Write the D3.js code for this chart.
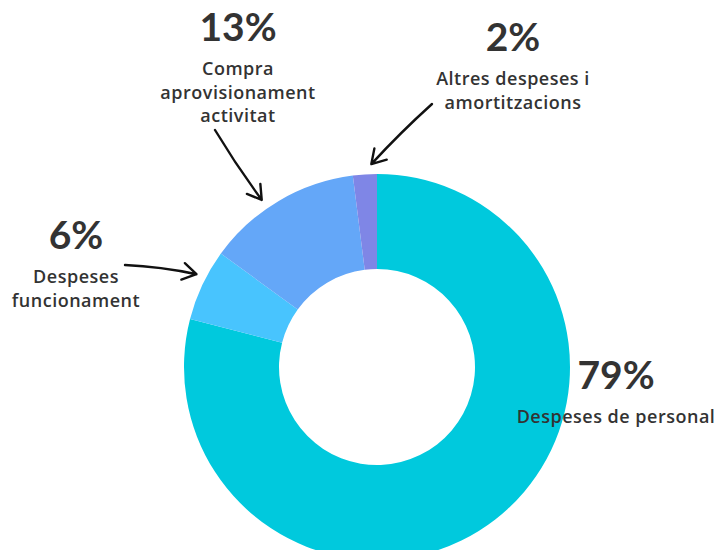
<!DOCTYPE html>
<html lang="ca">
<head>
<meta charset="UTF-8">
<title>Despeses</title>
<script src="https://cdn.jsdelivr.net/npm/d3@7"></script>
<style>
  body { margin: 0; background: #fff; }
  text { fill: #333; }
</style>
</head>
<body>
<svg id="main" width="717" height="550"></svg>
<script>
// data
const categories = ["Despeses de personal", "Despeses funcionament", "Compra aprovisionament activitat", "Altres despeses i amortitzacions"];
const values = [79, 6, 13, 2];
const labelLines = [["Despeses de personal"], ["Despeses", "funcionament"], ["Compra", "aprovisionament", "activitat"], ["Altres despeses i", "amortitzacions"]];
const colors = ["#00C9DD", "#48C4FE", "#64A7F8", "#7F86E6"];

// where each label sits, and where its arrow starts (null = no arrow)
const layout = [
    { x: 616, y: 389, arrow: null },
    { x: 76, y: 249, arrow: { x: 125, y: 265, bend: -3, dAngle: 2 } },
    { x: 238, y: 41, arrow: { x: 215, y: 130, bend: 2, dAngle: -4 } },
    { x: 513, y: 51, arrow: { x: 432, y: 104, bend: 2, dAngle: 2 } }
];

const cx = 377, cy = 367, outerR = 193, innerR = 98;
const svg = d3.select("#main");

const pie = d3.pie().sort(null).value(d => d);
const arcs = pie(values);
const arc = d3.arc().innerRadius(innerR).outerRadius(outerR);

const g = svg.append("g").attr("transform", `translate(${cx},${cy})`);
g.selectAll("path")
    .data(arcs)
    .join("path")
    .attr("d", arc)
    .attr("fill", (d, i) => colors[i]);

// labels
arcs.forEach((a, i) => {
    const L = layout[i];
    svg.append("text")
        .attr("x", L.x).attr("y", L.y)
        .attr("text-anchor", "middle")
        .attr("font-family", "Lato, sans-serif")
        .attr("font-size", 39)
        .attr("font-weight", 700)
        .text(values[i] + "%");
    labelLines[i].forEach((line, j) => {
        svg.append("text")
            .attr("x", L.x).attr("y", L.y + 34 + j * 23.5)
            .attr("text-anchor", "middle")
            .attr("font-family", "'Open Sans', sans-serif")
            .attr("font-size", 18)
            .attr("letter-spacing", 0.5)
            .attr("font-weight", 600)
            .text(line);
    });

    if (!L.arrow) return;
    // tip sits just outside the slice, at its middle angle
    const ang = (a.startAngle + a.endAngle) / 2 + L.arrow.dAngle * Math.PI / 180;
    const tip = [cx + Math.sin(ang) * (outerR + 10), cy - Math.cos(ang) * (outerR + 10)];
    const sx = L.arrow.x, sy = L.arrow.y;
    const mx = (sx + tip[0]) / 2, my = (sy + tip[1]) / 2;
    const dx = tip[0] - sx, dy = tip[1] - sy;
    const len = Math.hypot(dx, dy);
    const ctrl = [mx - dy / len * L.arrow.bend, my + dx / len * L.arrow.bend];

    const p = d3.path();
    p.moveTo(sx, sy);
    p.quadraticCurveTo(ctrl[0], ctrl[1], tip[0], tip[1]);
    // arrow head, two strokes back from the tip
    const dir = Math.atan2(tip[1] - ctrl[1], tip[0] - ctrl[0]);
    [-0.55, 0.55].forEach(o => {
        p.moveTo(tip[0], tip[1]);
        p.lineTo(tip[0] - 16 * Math.cos(dir + o), tip[1] - 16 * Math.sin(dir + o));
    });
    svg.append("path")
        .attr("d", p.toString())
        .attr("fill", "none")
        .attr("stroke", "#111")
        .attr("stroke-width", 2.4)
        .attr("stroke-linecap", "round")
        .attr("stroke-linejoin", "round");
});
</script>
</body>
</html>
